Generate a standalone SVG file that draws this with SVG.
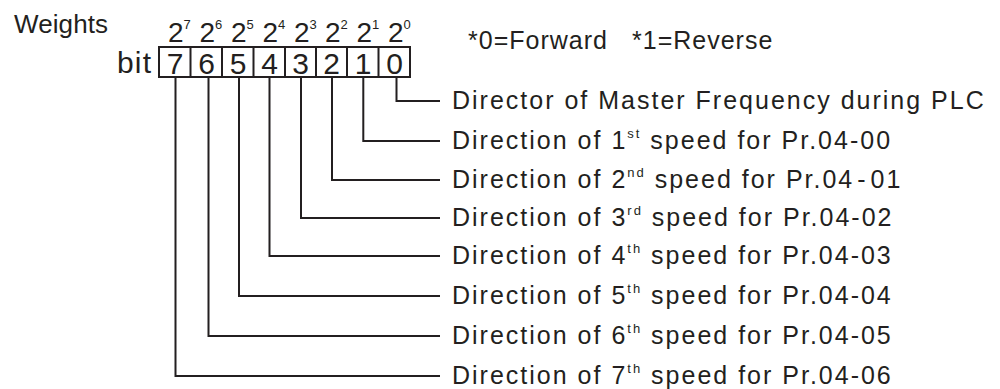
<svg xmlns="http://www.w3.org/2000/svg" width="1000" height="389" viewBox="0 0 1000 389">
<style>
text{font-family:"Liberation Sans",Arial,sans-serif;fill:#231f20}
.lbl{font-size:25px;letter-spacing:2px}
.note{font-size:25px;letter-spacing:1px}
.dig{font-size:30px;text-anchor:middle}
.pw{font-size:28px}
.sp{font-size:13px}
.ln{stroke:#231f20;stroke-width:2;fill:none}
</style>
<rect width="1000" height="389" fill="#fff"/>
<g id="header">
<text x="14" y="33" font-size="26" textLength="94">Weights</text>
<text x="117" y="73" font-size="30" textLength="34">bit</text>
<text class="note" x="468" y="49">*0=Forward</text>
<text class="note" x="632" y="49">*1=Reverse</text>
</g>
<g id="weights" class="pw">
<text x="168" y="42">2<tspan class="sp" font-size="14" dy="-13">7</tspan></text>
<text x="199.5" y="42">2<tspan class="sp" font-size="14" dy="-13">6</tspan></text>
<text x="231" y="42">2<tspan class="sp" font-size="14" dy="-13">5</tspan></text>
<text x="262.5" y="42">2<tspan class="sp" font-size="14" dy="-13">4</tspan></text>
<text x="294" y="42">2<tspan class="sp" font-size="14" dy="-13">3</tspan></text>
<text x="325" y="42">2<tspan class="sp" font-size="14" dy="-13">2</tspan></text>
<text x="356.5" y="42">2<tspan class="sp" font-size="14" dy="-13">1</tspan></text>
<text x="388" y="42">2<tspan class="sp" font-size="14" dy="-13">0</tspan></text>
</g>
<g id="bitbox">
<rect class="ln" x="159" y="47" width="251" height="30"/>
<path class="ln" d="M190.5 47V77M222 47V77M253.5 47V77M285 47V77M316 47V77M347 47V77M378.5 47V77"/>
<text class="dig" x="175" y="74">7</text>
<text class="dig" x="206.5" y="74">6</text>
<text class="dig" x="238" y="74">5</text>
<text class="dig" x="269.5" y="74">4</text>
<text class="dig" x="300.5" y="74">3</text>
<text class="dig" x="331.5" y="74">2</text>
<text class="dig" x="363" y="74">1</text>
<text class="dig" x="394.5" y="74">0</text>
</g>
<g id="connectors" class="ln">
<path d="M396.5 77V101H440"/>
<path d="M363.3 77V141H440"/>
<path d="M332 77V180H440"/>
<path d="M301 77V218H440"/>
<path d="M269.5 77V256H440"/>
<path d="M239 77V296H440"/>
<path d="M208.5 77V336H440"/>
<path d="M175.5 77V376H440"/>
</g>
<g id="labels" class="lbl">
<text x="452" y="109">Director of Master Frequency during PLC</text>
<text x="452" y="149">Direction of 1<tspan class="sp" dy="-11">st</tspan><tspan dy="11"> speed for Pr.04-00</tspan></text>
<text x="452" y="188">Direction of 2<tspan class="sp" dy="-11">nd</tspan><tspan dy="11"> speed for Pr.04</tspan><tspan dx="3">-</tspan><tspan dx="3">01</tspan></text>
<text x="452" y="226">Direction of 3<tspan class="sp" dy="-11">rd</tspan><tspan dy="11"> speed for Pr.04-02</tspan></text>
<text x="452" y="264">Direction of 4<tspan class="sp" dy="-11">th</tspan><tspan dy="11"> speed for Pr.04-03</tspan></text>
<text x="452" y="304">Direction of 5<tspan class="sp" dy="-11">th</tspan><tspan dy="11"> speed for Pr.04-04</tspan></text>
<text x="452" y="344">Direction of 6<tspan class="sp" dy="-11">th</tspan><tspan dy="11"> speed for Pr.04-05</tspan></text>
<text x="452" y="384">Direction of 7<tspan class="sp" dy="-11">th</tspan><tspan dy="11"> speed for Pr.04-06</tspan></text>
</g>
</svg>
